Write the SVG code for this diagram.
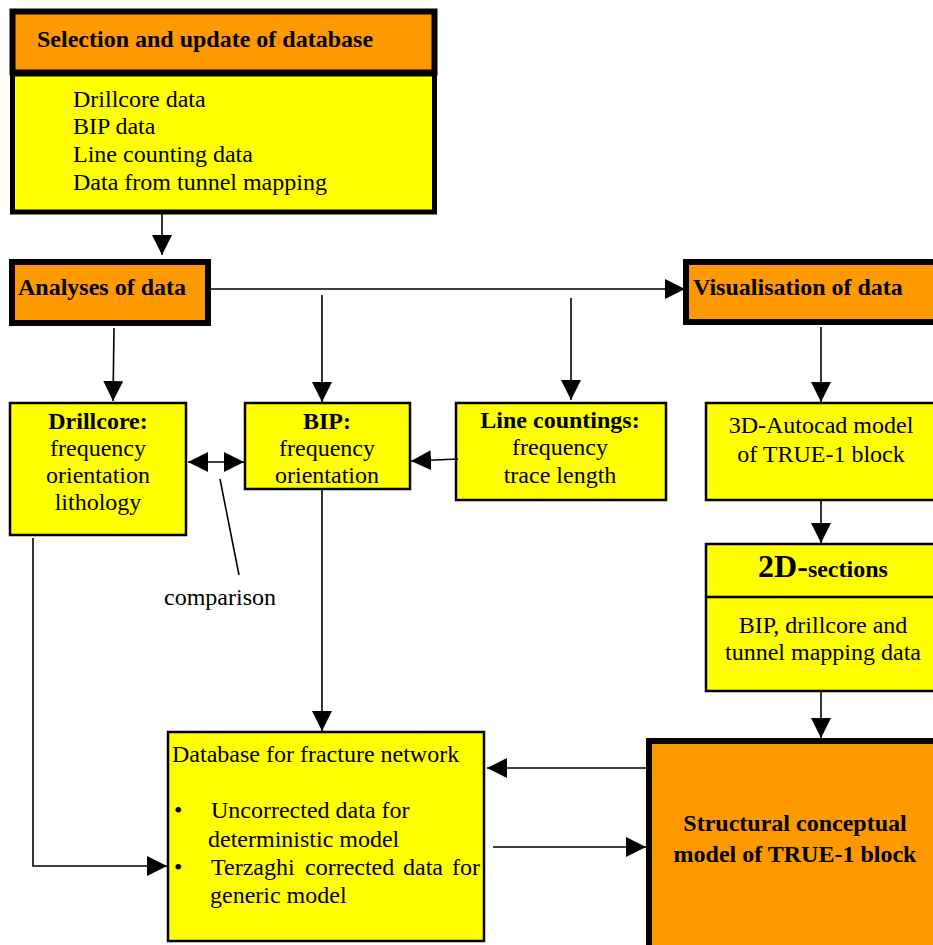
<svg xmlns="http://www.w3.org/2000/svg" width="933" height="945" viewBox="0 0 933 945">
  <style>
    text { font-family: "Liberation Serif", "Times New Roman", serif; font-size: 24px; fill: #000; }
    .b { font-weight: bold; }
    .c { text-anchor: middle; }
    .orange { fill: #FF9900; stroke: #000; stroke-width: 6; }
    .yellow { fill: #FFFF00; stroke: #000; stroke-width: 2.5; }
    .yellowThick { fill: #FFFF00; stroke: #000; stroke-width: 5; }
    .conn { fill: none; stroke: #000; stroke-width: 1.6; }
  </style>
  <defs>
    <marker id="arrow" markerUnits="userSpaceOnUse" markerWidth="20" markerHeight="20" refX="20" refY="10" orient="auto-start-reverse" viewBox="0 0 20 20">
      <path d="M0,0 L20,10 L0,20 Z" fill="#000"/>
    </marker>
  </defs>
  <rect width="933" height="945" fill="#fff"/>

  <!-- Database selection -->
  <g id="selection">
    <rect class="orange" x="12.5" y="11.5" width="422" height="61" stroke-width="5"/>
    <rect class="yellowThick" x="12.5" y="74" width="422" height="138"/>
    <text class="b" x="37" y="47">Selection and update of database</text>
    <text x="73" y="107">Drillcore data</text>
    <text x="73" y="134">BIP data</text>
    <text x="73" y="162">Line counting data</text>
    <text x="73" y="190">Data from tunnel mapping</text>
  </g>

  <g id="analyses">
    <rect class="orange" x="12" y="262" width="196" height="61"/>
    <text class="b" x="18" y="295">Analyses of data</text>
  </g>

  <g id="visualisation">
    <rect class="orange" x="686" y="262" width="260" height="60"/>
    <text class="b" x="693" y="295">Visualisation of data</text>
  </g>

  <g id="drillcore">
    <rect class="yellow" x="10" y="403" width="176" height="132"/>
    <text class="b c" x="98" y="429">Drillcore:</text>
    <text class="c" x="98" y="456">frequency</text>
    <text class="c" x="98" y="483">orientation</text>
    <text class="c" x="98" y="510">lithology</text>
  </g>

  <g id="bip">
    <rect class="yellow" x="245" y="403" width="165" height="86"/>
    <text class="b c" x="327" y="429">BIP:</text>
    <text class="c" x="327" y="456">frequency</text>
    <text class="c" x="327" y="483">orientation</text>
  </g>

  <g id="linecountings">
    <rect class="yellow" x="456" y="403" width="210" height="97"/>
    <text class="b c" x="560" y="428">Line countings:</text>
    <text class="c" x="560" y="455">frequency</text>
    <text class="c" x="560" y="483">trace length</text>
  </g>

  <g id="autocad">
    <rect class="yellow" x="706" y="403" width="240" height="97"/>
    <text class="c" x="821" y="433">3D-Autocad model</text>
    <text class="c" x="821" y="462">of TRUE-1 block</text>
  </g>

  <g id="sections">
    <rect class="yellow" x="706" y="544" width="240" height="147"/>
    <line x1="706" y1="597" x2="946" y2="597" stroke="#000" stroke-width="2.5"/>
    <text class="b c" x="823" y="577"><tspan font-size="32">2D-</tspan>sections</text>
    <text class="c" x="823" y="633">BIP, drillcore and</text>
    <text class="c" x="823" y="660">tunnel mapping data</text>
  </g>

  <g id="database">
    <rect class="yellow" x="168" y="732" width="316" height="209"/>
    <text x="172" y="762">Database for fracture network</text>
    <text x="174" y="818">•</text>
    <text x="211" y="818">Uncorrected data for</text>
    <text x="208" y="847">deterministic model</text>
    <text x="174" y="875">•</text>
    <text y="875"><tspan x="211">Terzaghi</tspan><tspan x="305">corrected</tspan><tspan x="403">data</tspan><tspan x="452">for</tspan></text>
    <text x="210" y="903">generic model</text>
  </g>

  <g id="structural">
    <rect class="orange" x="649" y="741" width="300" height="250" stroke-width="5"/>
    <text class="b c" x="795" y="831" font-size="26.5">Structural conceptual</text>
    <text class="b c" x="795" y="862" font-size="26.5">model of TRUE-1 block</text>
  </g>

  <g id="comparison-label">
    <text x="164" y="605">comparison</text>
  </g>

  <!-- Connectors -->
  <g id="connectors">
    <line class="conn" x1="162" y1="210" x2="162" y2="255" marker-end="url(#arrow)"/>
    <line class="conn" x1="211" y1="289" x2="685" y2="289" marker-end="url(#arrow)"/>
    <line class="conn" x1="114" y1="328" x2="113" y2="401" marker-end="url(#arrow)"/>
    <line class="conn" x1="322" y1="295" x2="322" y2="402" marker-end="url(#arrow)"/>
    <line class="conn" x1="571" y1="298" x2="571" y2="400" marker-end="url(#arrow)"/>
    <line class="conn" x1="821" y1="327" x2="821" y2="402" marker-end="url(#arrow)"/>
    <line class="conn" x1="821" y1="501" x2="821" y2="543" marker-end="url(#arrow)"/>
    <line class="conn" x1="821" y1="692" x2="821" y2="738" marker-end="url(#arrow)"/>
    <line class="conn" x1="458" y1="459" x2="411" y2="461" marker-end="url(#arrow)"/>
    <line class="conn" x1="188" y1="462" x2="244" y2="462" marker-start="url(#arrow)" marker-end="url(#arrow)"/>
    <line class="conn" x1="220" y1="479" x2="239" y2="575"/>
    <line class="conn" x1="322" y1="490" x2="322" y2="731" marker-end="url(#arrow)"/>
    <path class="conn" d="M33,538 V866 H167" marker-end="url(#arrow)"/>
    <line class="conn" x1="646" y1="768" x2="487" y2="768" marker-end="url(#arrow)"/>
    <line class="conn" x1="493" y1="847" x2="646" y2="847" marker-end="url(#arrow)"/>
  </g>
</svg>
